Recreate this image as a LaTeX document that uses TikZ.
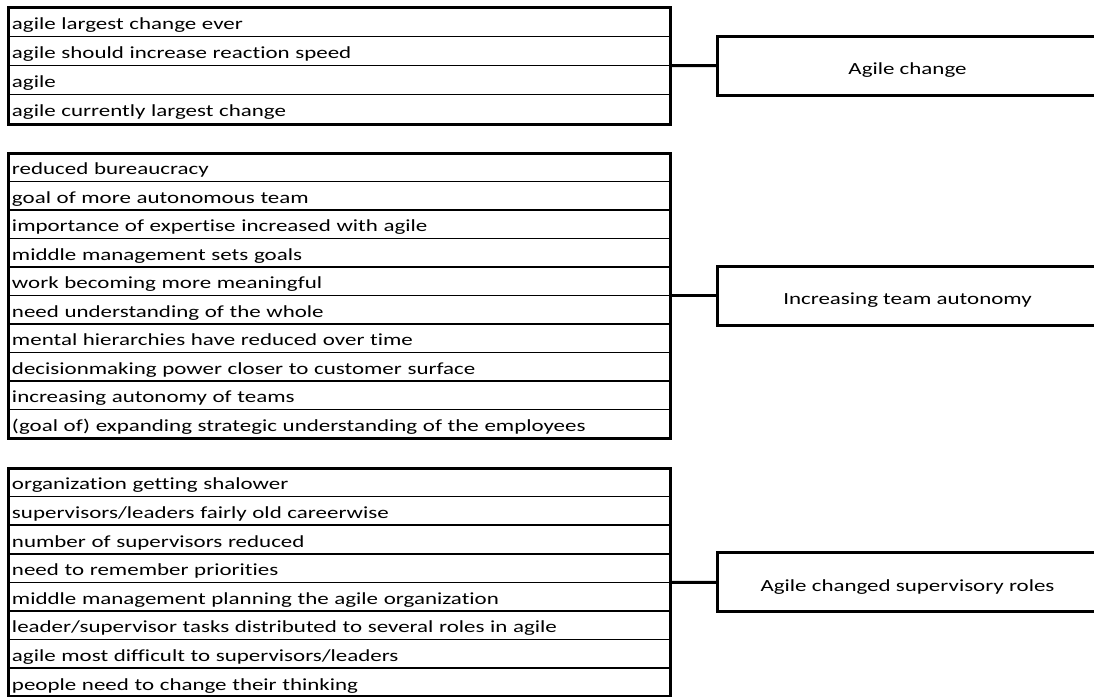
\documentclass[tikz,border=0pt]{standalone}
\usepackage{fontspec}
\newfontfamily\cellfont[FakeStretch=1.35,Ligatures=NoCommon]{Carlito}
\usetikzlibrary{fit}
\begin{document}
\begin{tikzpicture}[x=0.75pt,y=-0.75pt,
  txt/.style={font=\cellfont\fontsize{12.75}{15}\selectfont},
  row/.style={txt, draw, line width=1.1pt, anchor=north west, outer sep=0pt,
    inner xsep=3pt, inner ysep=0pt, text width=490.5pt, align=left,
    text height=13.5pt, text depth=2.25pt},
  frame/.style={draw, line width=2.25pt, inner sep=0pt},
  theme/.style={txt, draw, line width=2.25pt, anchor=west, outer sep=0pt,
    minimum width=285.75pt, minimum height=44.25pt, inner ysep=0pt,
    text height=15pt, text depth=1.5pt},
  link/.style={line width=2.25pt}]
\useasboundingbox (0,0) rectangle (1094,696);
\clip (0,0) rectangle (1094,696);

% group 1: agile change
\foreach \t [count=\i] in {agile largest change ever,
    agile should increase reaction speed, agile,
    agile currently largest change}
  \node[row, minimum height=21.94pt] (a\i) at (8,{7+(\i-1)*29.25}) {\t};
\node[frame, fit=(a1)(a4)] (ga) {};

% group 2: team autonomy
\foreach \t [count=\i] in {reduced bureaucracy, goal of more autonomous team,
    importance of expertise increased with agile, middle management sets goals,
    work becoming more meaningful, need understanding of the whole,
    mental hierarchies have reduced over time,
    decisionmaking power closer to customer surface,
    increasing autonomy of teams,
    (goal of) expanding strategic understanding of the employees}
  \node[row, minimum height=21.375pt] (b\i) at (8,{153+(\i-1)*28.5}) {\t};
\node[frame, fit=(b1)(b10)] (gb) {};

% group 3: supervisory roles
\foreach \t [count=\i] in {organization getting shalower,
    supervisors/leaders fairly old careerwise, number of supervisors reduced,
    need to remember priorities,
    middle management planning the agile organization,
    leader/supervisor tasks distributed to several roles in agile,
    agile most difficult to supervisors/leaders,
    people need to change their thinking}
  \node[row, minimum height=21.45pt] (c\i) at (8,{468+(\i-1)*28.6}) {\t};
\node[frame, fit=(c1)(c8)] (gc) {};

% themes and their connectors
\node[theme] (ta) at (717,65.5) {Agile change};
\node[theme] (tb) at (717,295.5) {Increasing team autonomy};
\node[theme] (tc) at (717,582.4) {Agile changed supervisory roles};
\draw[link] (ga.east) -- (ta.west);
\draw[link] (gb.east) -- (tb.west);
\draw[link] (gc.east) -- (tc.west);
\end{tikzpicture}
\end{document}
